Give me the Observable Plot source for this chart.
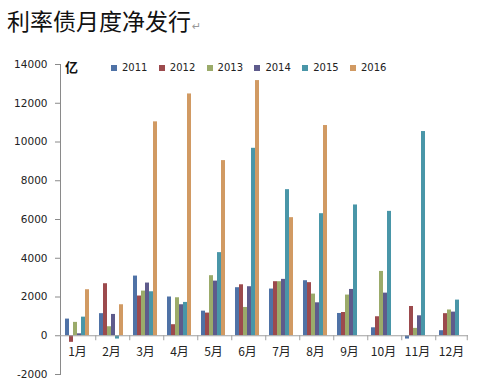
<!DOCTYPE html>
<html><head><meta charset="utf-8">
<script src="https://cdn.jsdelivr.net/npm/d3@7"></script>
<script src="https://cdn.jsdelivr.net/npm/@observablehq/plot@0.6"></script>
<style>
body{margin:0;background:#fff;}
#wrap{position:relative;width:478px;height:390px;overflow:hidden;background:#fff;}
#chart{position:absolute;left:0;top:0;}
#title{position:absolute;left:7px;top:9px;font:400 23px/1 "Noto Sans CJK SC";color:#111;white-space:nowrap;}
#title .ret{font:11px/1 "DejaVu Sans";color:#999;margin-left:1px;}
#unit{position:absolute;left:65px;top:60px;font:700 13px/1 "Noto Sans CJK SC";color:#111;}
#legend{position:absolute;left:111px;top:63px;display:flex;font:10px/1 "DejaVu Sans";color:#222;}
#legend .item{width:47.8px;display:flex;align-items:center;height:10px;}
#legend .sw{width:6px;height:6px;margin-right:5px;flex:none;}
</style></head>
<body>
<div id="wrap"><div id="chart"></div><div id="title"></div><div id="unit"></div><div id="legend"></div></div>
<script>
const titleText = "利率债月度净发行";
const unitLabel = "亿";
const months = ["1月","2月","3月","4月","5月","6月","7月","8月","9月","10月","11月","12月"];
const years = ["2011","2012","2013","2014","2015","2016"];
const colors = ["#4f72a6","#9c4a4d","#9bab6a","#5e5b8c","#4996a8","#d19a63"];
const v2011 = [860,1140,3080,2000,1270,2480,2410,2840,1150,410,-170,260];
const v2012 = [-340,2685,2050,570,1170,2630,2790,2740,1200,980,1510,1140];
const v2013 = [690,465,2305,1960,3100,1460,2790,2150,2100,3320,380,1330];
const v2014 = [100,1100,2720,1600,2820,2530,2910,1700,2390,2200,1030,1220];
const v2015 = [960,-170,2270,1720,4290,9675,7540,6300,6750,6420,10540,1840];
const v2016 = [2375,1600,11040,12480,9040,13170,6095,10850,null,null,null,null];
const yTicks = [-2000,0,2000,4000,6000,8000,10000,12000,14000];

const series = [v2011,v2012,v2013,v2014,v2015,v2016];
const data = [];
years.forEach((yr,i)=>months.forEach((m,j)=>{
  const v = series[i][j];
  if (v != null) data.push({year:yr, month:m, value:v});
}));

document.getElementById("title").innerHTML = titleText + '<span class="ret">↵</span>';
document.getElementById("unit").textContent = unitLabel;
const leg = document.getElementById("legend");
years.forEach((yr,i)=>{
  const it = document.createElement("div"); it.className="item";
  const sw = document.createElement("span"); sw.className="sw"; sw.style.background=colors[i];
  const tx = document.createElement("span"); tx.textContent = yr;
  it.appendChild(sw); it.appendChild(tx); leg.appendChild(it);
});

const W=478,H=390,mL=57,mR=7,mT=64,mB=16;
const fw=(W-mL-mR)/months.length;
const pOuter=0.75;
const step=fw/(years.length+2*pOuter);
const edge=(pOuter+0.5)*step;

const chart = Plot.plot({
  width:W,height:H,marginLeft:mL,marginRight:mR,marginTop:mT,marginBottom:mB,
  style:{fontFamily:"DejaVu Sans",fontSize:"10.5px",color:"#222",background:"transparent"},
  fx:{domain:months,padding:0,axis:null},
  x:{domain:years,paddingInner:0,paddingOuter:pOuter,axis:null},
  y:{domain:[-2000,14000],axis:null},
  color:{domain:years,range:colors},
  marks:[
    Plot.frame({anchor:"left",facetAnchor:"left",stroke:"#8a8a8a"}),
    Plot.axisY({ticks:yTicks,tickSize:5,tickPadding:8,stroke:"#8a8a8a",tickFormat:d=>String(d),label:null,facetAnchor:"left"}),
    Plot.barY(data,{fx:"month",x:"year",y:"value",fill:"year"}),
    Plot.ruleY([0],{stroke:"#a0a0a0"}),
    Plot.ruleX(months.slice(1),{fx:d=>d,x:()=>years[0],y1:()=>0,y2:()=>0,dx:-edge,insetBottom:-5,stroke:"#a0a0a0"}),
    Plot.ruleX(months.slice(-1),{fx:d=>d,x:()=>years[years.length-1],y1:()=>0,y2:()=>0,dx:edge,insetBottom:-5,stroke:"#a0a0a0"}),
    Plot.text(months,{fx:d=>d,y:()=>0,text:d=>d,dy:16.5,fontFamily:"Noto Sans CJK SC",fontSize:12,fill:"#222"})
  ]
});
document.getElementById("chart").appendChild(chart);
</script>
</body></html>
